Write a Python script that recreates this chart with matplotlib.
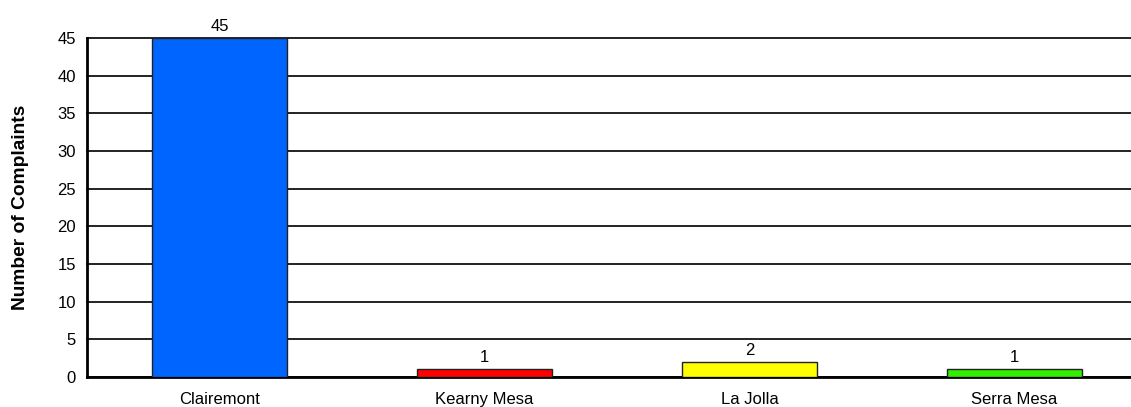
import matplotlib
matplotlib.use("Agg")
import matplotlib.pyplot as plt
import numpy as np

plt.rcParams['font.family'] = ['Liberation Sans', 'DejaVu Sans']

areas = ['Clairemont', 'Kearny Mesa', 'La Jolla', 'Serra Mesa']
complaints = [45, 1, 2, 1]
bar_colors = ['#0064ff', '#ff0000', '#ffff00', '#33ee00']
y_ticks = np.arange(0, 50, 5)

fig = plt.figure(figsize=(11.31, 4.07), dpi=100)
ax = fig.add_axes([87 / 1131, 30 / 407, 1060 / 1131, 339 / 407])

x = np.arange(len(areas))
ax.set_axisbelow(True)
ax.yaxis.grid(True, color='#111111', linewidth=1.3)
ax.bar(x, complaints, width=0.51, color=bar_colors, edgecolor='#222222', linewidth=1.0, zorder=3)

for xi, v in zip(x, complaints):
    ax.annotate(str(v), xy=(xi, v), xytext=(0, 3), textcoords='offset points',
                ha='center', va='bottom', fontsize=12)

ax.set_xlim(-0.5, 3.5)
ax.set_ylim(0, 45)
ax.set_yticks(y_ticks)
ax.set_xticks(x)
ax.set_xticklabels(areas, fontsize=12)
ax.tick_params(axis='y', length=0, pad=8, labelsize=12)
ax.tick_params(axis='x', length=0, pad=11)
for gl in ax.get_ygridlines():
    gl.set_clip_on(False)

for s in ['top', 'right']:
    ax.spines[s].set_visible(False)
ax.spines['left'].set_linewidth(2)
ax.spines['bottom'].set_linewidth(2)

ax.set_ylabel('Number of Complaints', fontsize=13.8, fontweight='bold')
ax.yaxis.set_label_coords(-0.055, 0.5)

fig.savefig('out.png', dpi=100)
